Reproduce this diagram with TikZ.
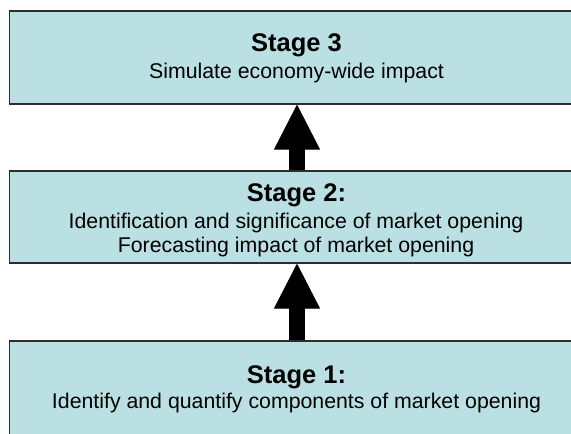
\documentclass[tikz,border=0pt]{standalone}
\usepackage{fontspec}
\setmainfont{Liberation Sans}
\usetikzlibrary{arrows.meta}
\definecolor{boxfill}{RGB}{187,224,227}
\definecolor{boxline}{RGB}{45,45,45}
\tikzset{
  stagebox/.style={draw=boxline, line width=1.1pt, fill=boxfill, rectangle, minimum width=575pt, inner sep=0pt},
  titletext/.style={anchor=base, inner sep=0pt, font=\bfseries\fontsize{25.5}{30}\selectfont},
  bodytext/.style={anchor=base, inner sep=0pt, font=\fontsize{21.3}{26}\selectfont},
  bigarrow/.style={line width=16pt, draw=black, -{Triangle[width=46pt,length=45pt,line width=1pt]}}
}
\begin{document}
\begin{tikzpicture}[x=1pt,y=-1pt]
\path[use as bounding box] (0,0) rectangle (571,434);
\clip (0,0) rectangle (571,434);
\node[stagebox, minimum height=93pt] (s3) at (297,57.5) {};
\node[stagebox, minimum height=92pt] (s2) at (297,217) {};
\node[stagebox, minimum height=94pt] (s1) at (297,388) {};
\node[titletext] (t3) at (296.5,51.7) {Stage 3};
\node[bodytext] (l3) at (296.5,78.5) {Simulate economy-wide impact};
\node[titletext] (t2) at (296.5,201.7) {Stage 2:};
\node[bodytext] (l2a) at (296,228.3) {Identification and significance of market opening};
\node[bodytext] (l2b) at (296,252.3) {Forecasting impact of market opening};
\node[titletext] (t1) at (296.5,383.3) {Stage 1:};
\node[bodytext] (l1) at (296.5,408.3) {Identify and quantify components of market opening};
\draw[bigarrow] (s2.north) -- (s3.south);
\draw[bigarrow] (s1.north) -- (s2.south);
\end{tikzpicture}
\end{document}
